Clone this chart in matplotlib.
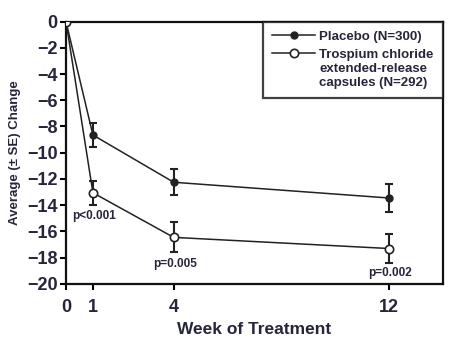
import matplotlib.pyplot as plt
import numpy as np
from matplotlib.legend_handler import HandlerLine2D

# данные
weeks = [0, 1, 4, 12]
placebo = [0, -8.65, -12.25, -13.45]
placebo_se = [0, 0.95, 1.0, 1.05]
trospium = [0, -13.05, -16.45, -17.3]
trospium_se = [0, 0.9, 1.15, 1.1]
p_labels = ['p<0.001', 'p=0.005', 'p=0.002']
p_weeks = [1.05, 4.05, 12.05]
p_y = [-14.8, -18.5, -19.2]

plt.rcParams['font.family'] = ['Liberation Sans', 'DejaVu Sans']
plt.rcParams['font.weight'] = 'bold'
plt.rcParams['axes.labelweight'] = 'bold'
txt = '#26263a'


# маркер легенды на уровне первой строки подписи
class TopHandler(HandlerLine2D):
    def create_artists(self, legend, orig_handle, xdescent, ydescent, width,
                       height, fontsize, trans):
        arts = super().create_artists(legend, orig_handle, xdescent, ydescent,
                                      width, height, fontsize, trans)
        for a in arts:
            a.set_ydata(np.asarray(a.get_ydata()) + fontsize * 1.2)
        return arts


fig = plt.figure(figsize=(4.66, 3.51), dpi=100)
ax = fig.add_axes([0.1416, 0.191, 0.809, 0.7477])

ax.errorbar(weeks[1:], placebo[1:], yerr=placebo_se[1:], fmt='none', ecolor='#222',
            elinewidth=1.5, capsize=3, capthick=1.5, zorder=2)
ax.errorbar(weeks[1:], trospium[1:], yerr=trospium_se[1:], fmt='none', ecolor='#222',
            elinewidth=1.5, capsize=3, capthick=1.5, zorder=2)
ax.plot(weeks, placebo, color='#222', lw=1.1, marker='o', ms=5, mfc='#222',
        mec='#222', label='Placebo (N=300)', zorder=3)
l2, = ax.plot(weeks, trospium, color='#222', lw=1.1, marker='o', ms=6, mfc='white',
              mec='#222', mew=1.2, zorder=4,
              label='Trospium chloride\nextended-release\ncapsules (N=292)')

for w, y, s in zip(p_weeks, p_y, p_labels):
    ax.text(w, y, s, ha='center', va='center', fontsize=8.5, color=txt)

ax.set_xlim(0, 14)
ax.set_ylim(-20, 0)
ax.set_xticks(weeks)
ax.set_yticks(range(-20, 1, 2))
ax.tick_params(axis='both', direction='out', length=4, width=1.5, labelsize=13,
               labelcolor=txt)
ax.tick_params(axis='x', pad=7)
ax.tick_params(axis='y', pad=2)
for s in ax.spines.values():
    s.set_linewidth(1.6)
    s.set_color('#111')
ax.set_xlabel('Week of Treatment', fontsize=12.5, color=txt, labelpad=4)
ax.set_ylabel('Average (± SE) Change', fontsize=9.5, color=txt, labelpad=4)

leg = ax.legend(loc='upper right', fontsize=9.5, frameon=True, fancybox=False,
                borderaxespad=0, handlelength=3.3, labelspacing=0.45,
                handletextpad=0.3, borderpad=0.7, handler_map={l2: TopHandler()})
leg.get_frame().set_edgecolor('#111')
leg.get_frame().set_linewidth(1.6)
for t in leg.get_texts():
    t.set_color(txt)
    t.set_multialignment('left')

fig.savefig('out.png', dpi=100)
